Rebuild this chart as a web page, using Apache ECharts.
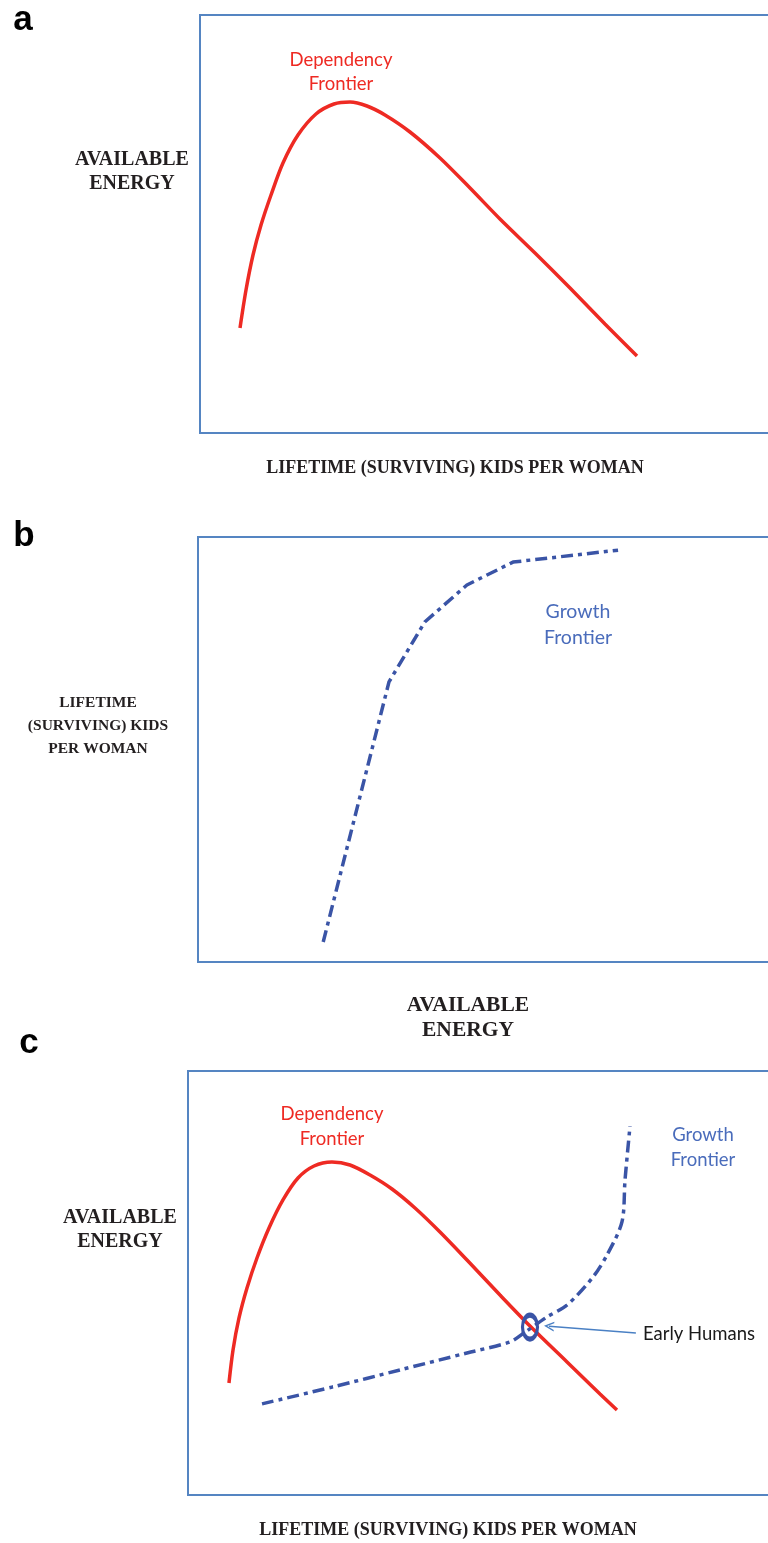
<!DOCTYPE html>
<html>
<head>
<meta charset="utf-8">
<script src="https://cdn.jsdelivr.net/npm/echarts@6/dist/echarts.min.js"></script>
<style>html,body{margin:0;padding:0;background:#fff}#c{width:768px;height:1543px}</style>
</head>
<body>
<div id="c"></div>
<script>
// Panel a: dependency frontier (x: kids per woman, y: available energy), 0-100 scale
const depA = [[6.96,25.12],[8.00,34.21],[9.22,42.58],[10.61,49.76],[12.35,56.94],[14.43,64.59],[17.04,71.29],[20.17,76.32],[23.30,78.71],[26.09,79.19],[29.04,78.23],[32.17,76.08],[36.52,72.01],[41.74,65.79],[46.96,58.61],[52.17,51.20],[58.26,43.06],[64.35,34.69],[70.43,26.08],[76.00,18.42]];
// Panel b: growth frontier (x: available energy, y: kids per woman)
const growthB = [[21.7,4.7],[33.1,65.9],[39.3,80.0],[46.6,88.7],[54.6,94.1],[72.8,96.9]];
// Panel c: both frontiers
const depC = [[6.98,26.42],[7.67,34.20],[8.69,41.75],[10.05,48.82],[11.75,55.90],[13.80,62.97],[16.18,69.58],[18.74,74.76],[21.47,77.59],[24.53,78.54],[27.60,77.83],[31.01,75.47],[34.75,72.17],[38.67,67.69],[42.93,62.03],[47.53,55.42],[53.15,47.17],[58.26,39.86],[64.57,31.37],[70.19,23.82],[73.08,20.05]];
const growthC = [[12.61,21.5],[24.70,25.5],[36.12,29.5],[47.53,33.5],[54.85,36.1],[57.41,38.4],[61.16,42.0],[64.57,44.8],[68.99,51.4],[71.38,56.6],[73.93,64.4],[74.45,74.3],[75.30,87.0]];
const earlyHumans = [[58.26,39.6]];
const arrowFromTo = [[76.3,38.2],[61.5,39.8]];

const panelLetters = ['a','b','c'];
const depLabel = 'Dependency\nFrontier';
const growthLabel = 'Growth\nFrontier';
const energyLabel = 'AVAILABLE\nENERGY';
const kidsLabel = 'LIFETIME (SURVIVING) KIDS PER WOMAN';
const kidsLabelStack = 'LIFETIME\n(SURVIVING) KIDS\nPER WOMAN';
const earlyLabel = 'Early Humans';

const RED = '#ee2a23', BLUE = '#3a54a6', BORDER = '#5585c2', BLUE_TXT = '#4a6cbb';
const DASH = [12,5,4,5];

const chart = echarts.init(document.getElementById('c'), null, {renderer:'canvas'});
const grids = [
  {left:200, top:15, height:418, width:575},
  {left:198, top:537, height:425, width:577},
  {left:188, top:1071, height:424, width:587}
].map(g => Object.assign(g, {show:true, borderColor:BORDER, borderWidth:2, backgroundColor:'transparent', outerBoundsMode:'none'}));
const axes = (n) => Array.from({length:n}, (_, i) => ({type:'value', gridIndex:i, min:0, max:100, show:false}));

const serif = {fontFamily:'Liberation Serif', fontWeight:'bold', fill:'#231f20'};
const calib = {fontFamily:'Lato', fontSize:18.5};
function txt(x, y, text, style){ return {type:'text', x, y, silent:true, style:Object.assign({text, align:'center', verticalAlign:'middle'}, style)}; }

chart.setOption({
  animation:false,
  grid: grids,
  xAxis: axes(3),
  yAxis: axes(3),
  series: [
    {type:'line', xAxisIndex:0, yAxisIndex:0, data:depA, smooth:0.3, showSymbol:false, lineStyle:{color:RED, width:3.5}},
    {type:'line', xAxisIndex:1, yAxisIndex:1, data:growthB, smooth:false, showSymbol:false, lineStyle:{color:BLUE, width:3.5, type:DASH, cap:'butt'}},
    {type:'line', xAxisIndex:2, yAxisIndex:2, data:depC, smooth:0.3, showSymbol:false, lineStyle:{color:RED, width:3.5}},
    {type:'line', xAxisIndex:2, yAxisIndex:2, data:growthC, smooth:0.3, showSymbol:false, lineStyle:{color:BLUE, width:3.5, type:DASH, cap:'butt'}},
    {type:'scatter', xAxisIndex:2, yAxisIndex:2, data:earlyHumans, symbol:'circle', symbolSize:[15,24], z:5,
      itemStyle:{color:'rgba(0,0,0,0)', borderColor:BLUE, borderWidth:4, opacity:1},
      markLine:{silent:true, animation:false, symbol:['none','path://M0,10 L5,0 L10,10 L8.4,10 L5,3.2 L1.6,10 Z'], symbolSize:[10,10],
        label:{show:false}, lineStyle:{color:'#4a80c4', width:1.6, type:'solid', opacity:1},
        data:[[{coord:arrowFromTo[0]},{coord:arrowFromTo[1]}]]}}
  ],
  graphic: [
    txt(23, 20, panelLetters[0], {fontFamily:'Liberation Sans', fontWeight:'bold', fontSize:35, fill:'#000'}),
    txt(24, 536, panelLetters[1], {fontFamily:'Liberation Sans', fontWeight:'bold', fontSize:35, fill:'#000'}),
    txt(29, 1043, panelLetters[2], {fontFamily:'Liberation Sans', fontWeight:'bold', fontSize:35, fill:'#000'}),
    // panel a
    txt(341, 72, depLabel, Object.assign({fill:RED, lineHeight:24}, calib)),
    txt(132, 172, energyLabel, Object.assign({fontSize:20, lineHeight:24}, serif)),
    txt(455, 468, kidsLabel, Object.assign({fontSize:18}, serif)),
    // panel b
    txt(578, 625, growthLabel, Object.assign({fill:BLUE_TXT, lineHeight:26}, calib, {fontSize:19.5})),
    txt(98, 726, kidsLabelStack, Object.assign({fontSize:15.5, lineHeight:23}, serif)),
    txt(468, 1018, energyLabel, Object.assign({fontSize:21.5, lineHeight:25}, serif)),
    // panel c
    txt(332, 1127, depLabel, Object.assign({fill:RED, lineHeight:25}, calib)),
    txt(703, 1148, growthLabel, Object.assign({fill:BLUE_TXT, lineHeight:25}, calib)),
    txt(699, 1334, earlyLabel, Object.assign({fill:'#1a1a1a'}, calib)),
    txt(120, 1230, energyLabel, Object.assign({fontSize:20, lineHeight:24}, serif)),
    txt(448, 1530, kidsLabel, Object.assign({fontSize:18}, serif))
  ]
});
</script>
</body>
</html>
